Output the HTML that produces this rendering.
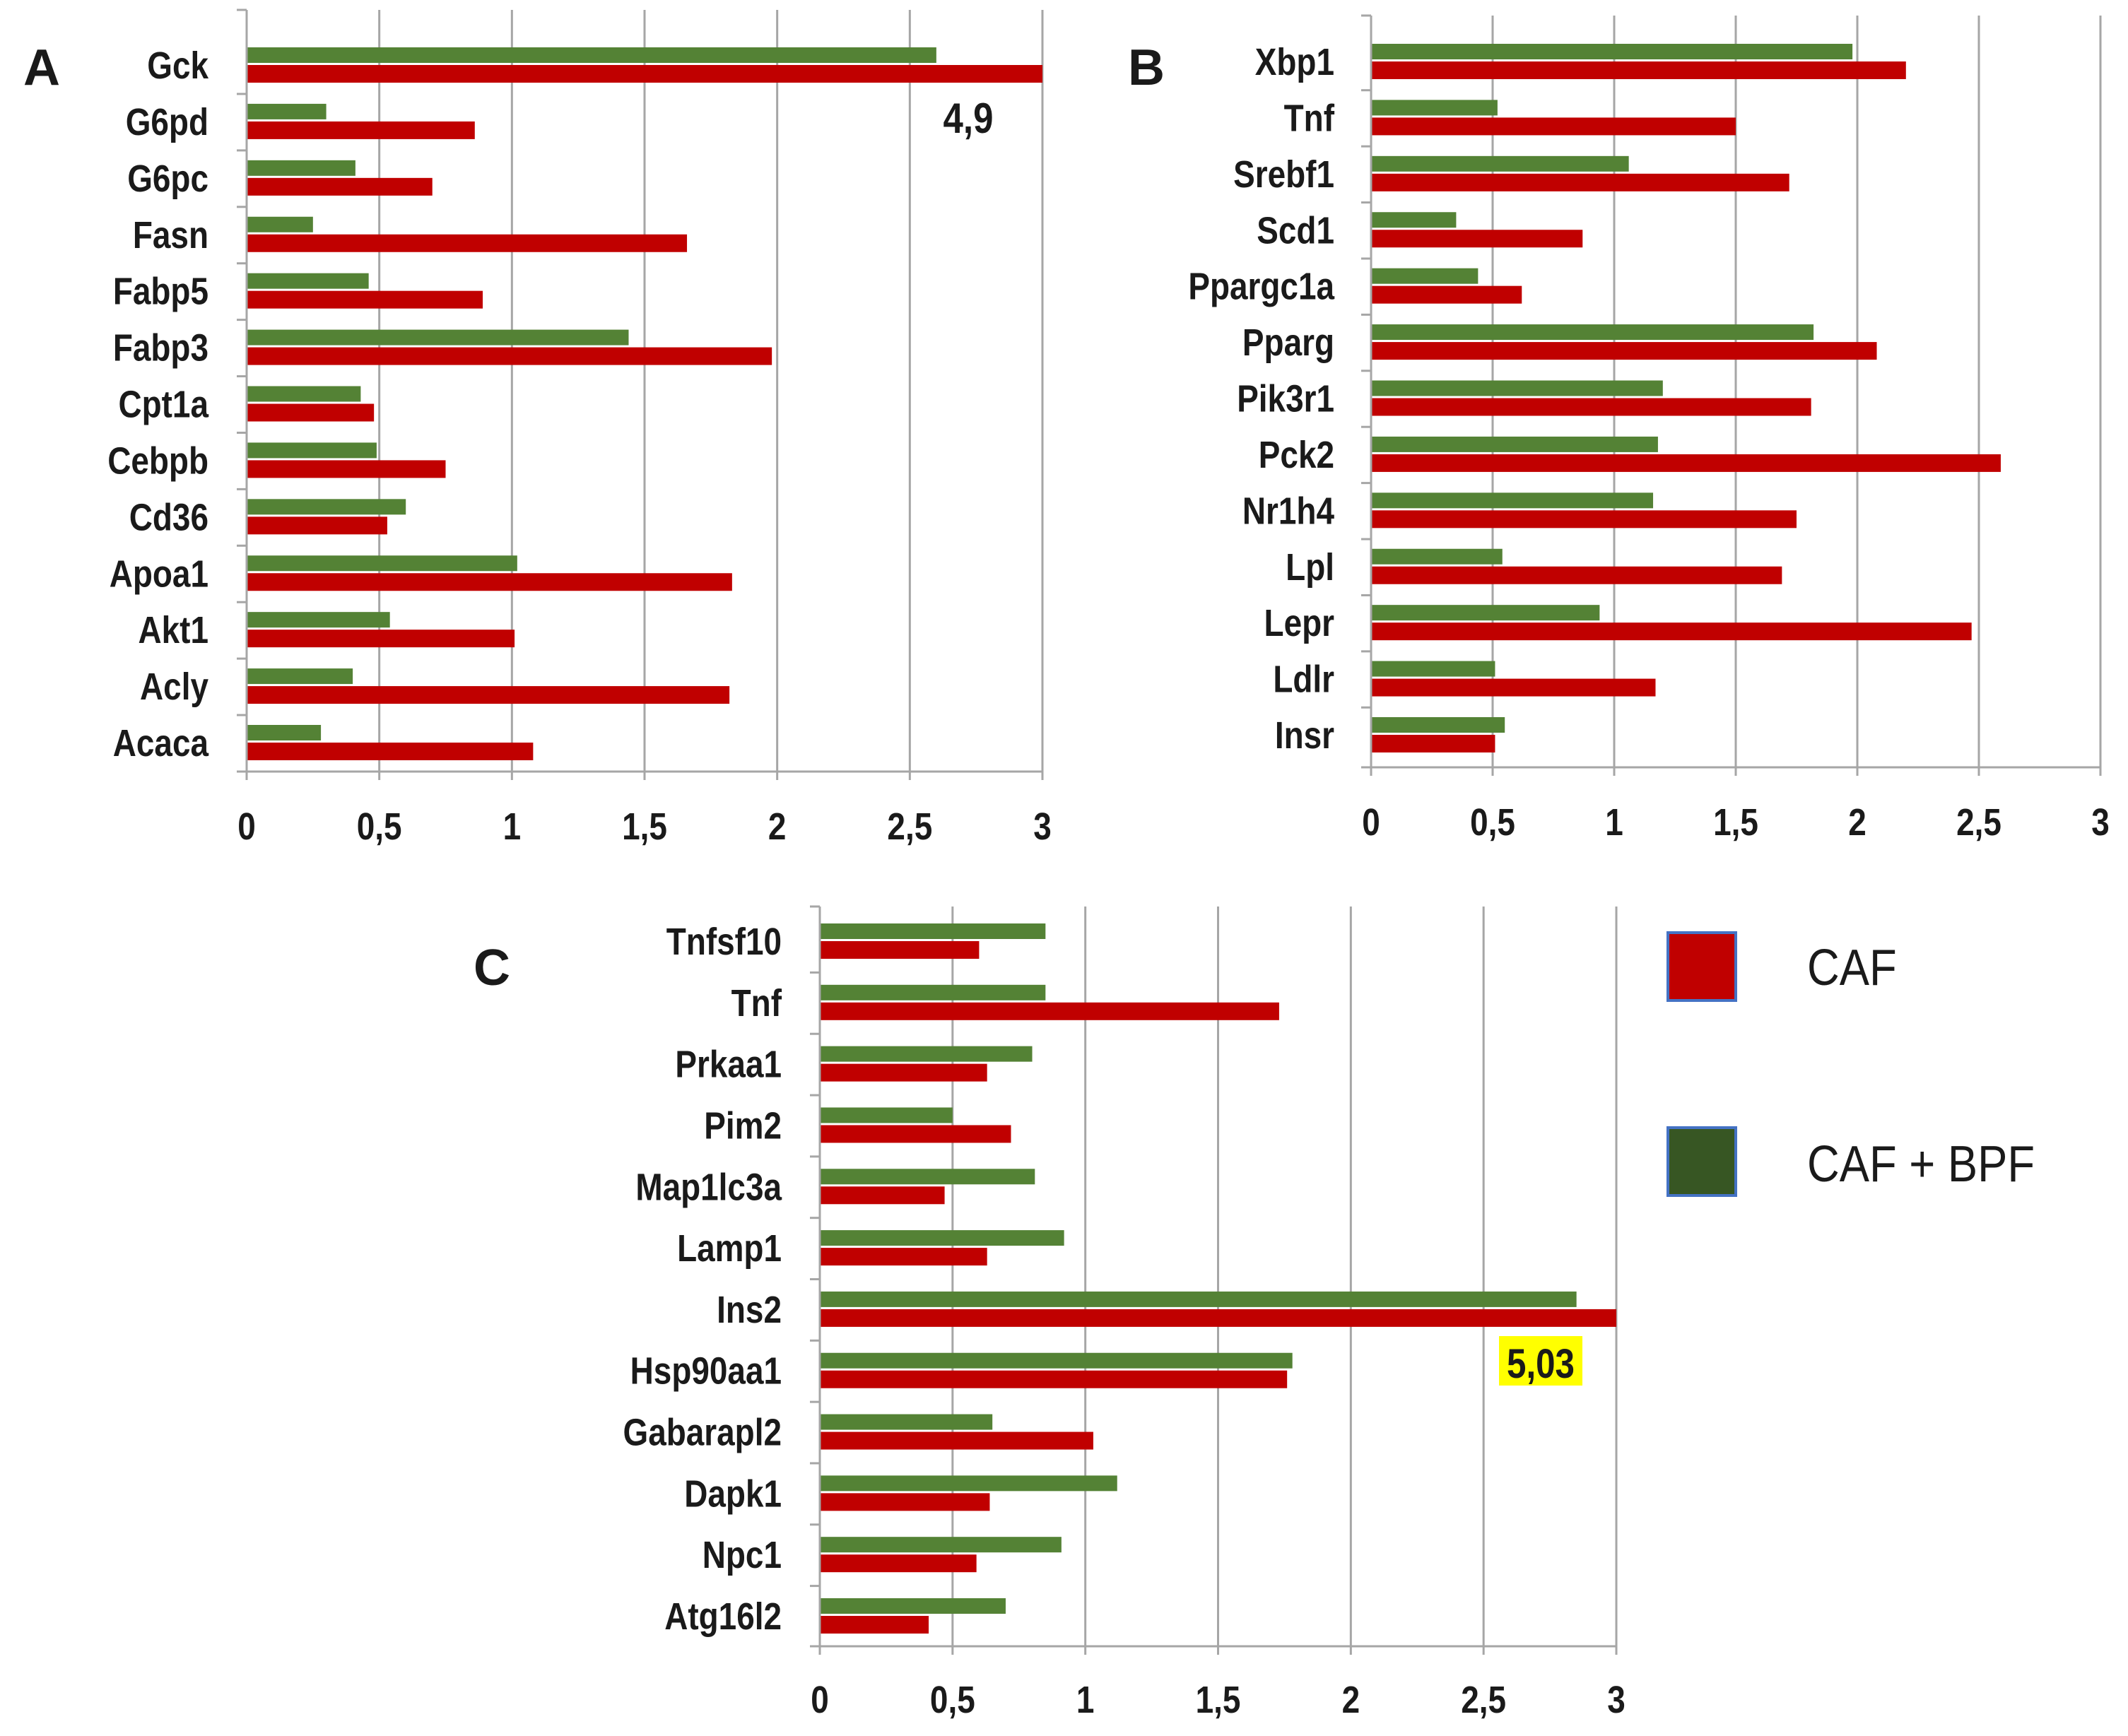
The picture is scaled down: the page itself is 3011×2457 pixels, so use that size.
<!DOCTYPE html>
<html><head><meta charset="utf-8">
<style>
html,body{margin:0;padding:0;background:#fff;}
svg{display:block;}
text{font-family:"Liberation Sans Narrow","Liberation Sans",sans-serif;font-weight:bold;fill:#1a1a1a;}
</style></head>
<body>
<svg id="chart" width="3011" height="2457" viewBox="0 0 3011 2457" xmlns="http://www.w3.org/2000/svg">
<text x="33" y="120" font-size="72">A</text>
<text x="1596" y="120" font-size="72">B</text>
<text x="670" y="1394" font-size="72">C</text>
<g>
<rect x="2360" y="1320" width="96" height="96" fill="#C00000" stroke="#4472C4" stroke-width="4"/>
<text transform="translate(2557,1394) scale(0.88,1)" font-size="72" style="font-weight:normal">CAF</text>
<rect x="2360" y="1596" width="96" height="96" fill="#375623" stroke="#4472C4" stroke-width="4"/>
<text transform="translate(2557,1672) scale(0.88,1)" font-size="72" style="font-weight:normal">CAF + BPF</text>
</g>
<rect x="2121" y="1891" width="118" height="70" fill="#FFFF00"/>
<text transform="translate(2180,1950) scale(0.85,1)" font-size="58" text-anchor="middle">5,03</text>
<text transform="translate(1370,188) scale(0.85,1)" font-size="60" text-anchor="middle">4,9</text>
</svg>
<script>
const ticks = ["0","0,5","1","1,5","2","2,5","3"];
const genesA = ["Gck","G6pd","G6pc","Fasn","Fabp5","Fabp3","Cpt1a","Cebpb","Cd36","Apoa1","Akt1","Acly","Acaca"];
const cafA = [3.0,0.86,0.70,1.66,0.89,1.98,0.48,0.75,0.53,1.83,1.01,1.82,1.08];
const bpfA = [2.60,0.30,0.41,0.25,0.46,1.44,0.43,0.49,0.60,1.02,0.54,0.40,0.28];
const genesB = ["Xbp1","Tnf","Srebf1","Scd1","Ppargc1a","Pparg","Pik3r1","Pck2","Nr1h4","Lpl","Lepr","Ldlr","Insr"];
const cafB = [2.20,1.50,1.72,0.87,0.62,2.08,1.81,2.59,1.75,1.69,2.47,1.17,0.51];
const bpfB = [1.98,0.52,1.06,0.35,0.44,1.82,1.20,1.18,1.16,0.54,0.94,0.51,0.55];
const genesC = ["Tnfsf10","Tnf","Prkaa1","Pim2","Map1lc3a","Lamp1","Ins2","Hsp90aa1","Gabarapl2","Dapk1","Npc1","Atg16l2"];
const cafC = [0.60,1.73,0.63,0.72,0.47,0.63,3.0,1.76,1.03,0.64,0.59,0.41];
const bpfC = [0.85,0.85,0.80,0.50,0.81,0.92,2.85,1.78,0.65,1.12,0.91,0.70];

const NS="http://www.w3.org/2000/svg";
const svg=document.getElementById('chart');
function mk(tag,attrs,parent){const e=document.createElementNS(NS,tag);for(const k in attrs)e.setAttribute(k,attrs[k]);(parent||svg).appendChild(e);return e;}

function panel(id,genes,caf,bpf,cfg){
  const g=mk('g',{});
  
  
  svg.insertBefore(g, svg.firstChild);
  const xs=v=>cfg.x0+(cfg.x3-cfg.x0)*v/3;
  const n=genes.length;
  const step=(cfg.cLast-cfg.cFirst)/(n-1);
  const yc=i=>cfg.cFirst+i*step;
  for(let t=1;t<ticks.length;t++){
    const gl=mk('line',{x1:xs(t*0.5),x2:xs(t*0.5),y1:cfg.top,y2:cfg.bottom,stroke:'#a6a6a6','stroke-width':3},g);
    
    
  }
  for(let t=0;t<ticks.length;t++){
    const tl=mk('text',{transform:'translate('+xs(t*0.5)+','+cfg.tickY+') scale(0.85,1)','font-size':54,'text-anchor':'middle'},g);
    tl.textContent=ticks[t];
    
    
    mk('line',{x1:xs(t*0.5),x2:xs(t*0.5),y1:cfg.bottom,y2:cfg.bottom+12,stroke:'#a6a6a6','stroke-width':3},g);
  }
  for(let i=0;i<n;i++){
    const c=yc(i);
    const gb=mk('rect',{x:xs(0),y:c-26,width:xs(bpf[i])-xs(0),height:22,fill:'#548235'},g);
    
    
    const rb=mk('rect',{x:xs(0),y:c-1,width:xs(caf[i])-xs(0),height:25,fill:'#C00000'},g);
    
    
    const lb=mk('text',{transform:'translate('+cfg.labelX+','+(c+18)+') scale(0.85,1)','font-size':54,'text-anchor':'end'},g);
    lb.textContent=genes[i];
    
    
  }
  for(let i=0;i<=n;i++){
    const yy=(i===0)?cfg.top:(i===n?cfg.bottom:yc(i)-step/2);
    mk('line',{x1:xs(0)-14,x2:xs(0),y1:yy,y2:yy,stroke:'#a6a6a6','stroke-width':3},g);
  }
  const ya=mk('line',{x1:xs(0),x2:xs(0),y1:cfg.top,y2:cfg.bottom,stroke:'#a6a6a6','stroke-width':3},g);
  
  
  const xa=mk('line',{x1:xs(0)-14,x2:xs(3),y1:cfg.bottom,y2:cfg.bottom,stroke:'#a6a6a6','stroke-width':3},g);
  
  
}
panel('panel-a-chart',genesA,cafA,bpfA,{x0:349,x3:1475,top:14,bottom:1092,cFirst:93,cLast:1052,tickY:1188,labelX:295});
panel('panel-b-chart',genesB,cafB,bpfB,{x0:1940,x3:2972,top:22,bottom:1086,cFirst:88,cLast:1041,tickY:1182,labelX:1888});
panel('panel-c-chart',genesC,cafC,bpfC,{x0:1160,x3:2287,top:1283,bottom:2330,cFirst:1333,cLast:2288,tickY:2424,labelX:1106});
</script>
</body></html>
